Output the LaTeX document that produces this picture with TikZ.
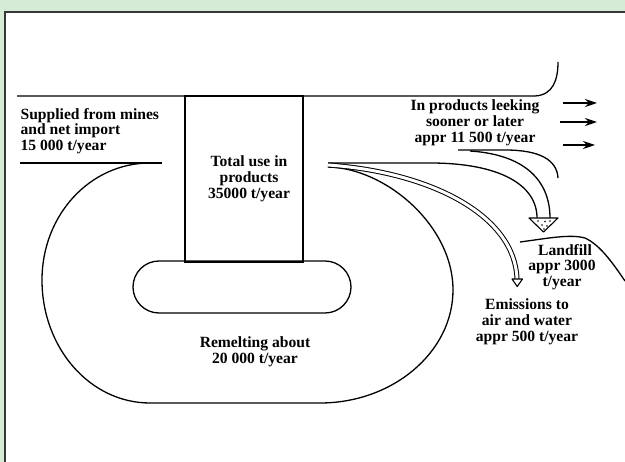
\documentclass[tikz,border=0pt]{standalone}
\usepackage{fontspec}
\setmainfont{Liberation Serif}
\usetikzlibrary{arrows.meta}
\definecolor{bandgreen}{RGB}{214,235,214}
\definecolor{framegray}{RGB}{55,55,55}
\begin{document}
\begin{tikzpicture}[x=1pt,y=-1pt,line width=1.3pt,
  lbl/.style={font=\fontsize{15.6}{15.8}\selectfont\bfseries,inner sep=0pt,align=center},
  outflow/.style={-{Stealth[length=12pt,width=8pt]},line width=1.3pt},
  headtri/.style={fill=white,line width=1.1pt,line join=round}]
\useasboundingbox (0,0) rectangle (625,462);
% page frame: green band on top and left, dark rule inside
\fill[bandgreen] (0,0) rectangle (625,12);
\fill[bandgreen] (0,0) rectangle (5,462);
\draw[framegray,line width=1.3pt] (5,462) -- (5,12) -- (625,12);

% key points
\coordinate (topL) at (17,96);
\coordinate (topR) at (535,96);
\coordinate (topEnd) at (558,62);
\coordinate (supL) at (20,163);
\coordinate (supR) at (162,163);
\coordinate (loopA) at (150,163);
\coordinate (fork) at (328,165);
\coordinate (leakA) at (458,150);

% top boundary line, bending upwards at its right end
\draw (topL) -- (topR) .. controls (553,95) and (558,80) .. (topEnd);
% lower boundary of the supply
\draw (supL) -- (supR);

% product stock box
\draw (185,96) rectangle (303,262);

% inner recycling loop
\draw[rounded corners=26pt] (133,261) rectangle (351,313);

% outer remelting loop
\draw (loopA) .. controls (90,163) and (42,215) .. (42,280)
  .. controls (42,348) and (90,403) .. (150,403)
  -- (320,403)
  .. controls (393,403) and (453,352) .. (453,290)
  .. controls (453,225) and (385,168) .. (328,167);

% landfill flow band
\draw (328,163) -- (430,163) .. controls (500,163) and (537,185) .. (537,218);
\draw (470,151) .. controls (530,155) and (550,185) .. (550,218);
\draw[headtri] (529,218) -- (558,218) -- (543.5,232) -- cycle;
\foreach \p in {(538,221),(545,221.5),(550,221),(542,225),(547,226),(544,229)}
  \fill \p circle (0.9pt);

% leakage line under the label
\draw (leakA) -- (505,150) .. controls (540,150) and (557,160) .. (558,178);

% emissions flow (double line)
\draw[double distance=3pt,line width=1pt] (fork) .. controls (430,172) and (515,215) .. (517,279);
\draw[headtri] (512,279) -- (522.5,279) -- (517.2,286.5) -- cycle;

% landfill ground surface
\draw (520,242) .. controls (550,238) and (570,234) .. (585,238)
  .. controls (600,245) and (612,262) .. (625,281);

% leakage arrows
\coordinate (a1s) at (563,103); \coordinate (a1e) at (597,103);
\coordinate (a2s) at (560,122); \coordinate (a2e) at (597,122);
\coordinate (a3s) at (563,145); \coordinate (a3e) at (595,145);
\draw[outflow] (a1s) -- (a1e);
\draw[outflow] (a2s) -- (a2e);
\draw[outflow] (a3s) -- (a3e);

% labels
\node[lbl,align=left,anchor=north west] (supply) at (20,107.5)
  {Supplied from mines\\and net import\\15 000 t/year};
\node[lbl,anchor=north] (leak) at (475,99.5)
  {In products leeking\\sooner or later\\appr 11 500 t/year};
\node[lbl,anchor=north] (total) at (249,155.5)
  {Total use in\\products\\35000 t/year};
\node[lbl,anchor=north] (remelt) at (255,336.5)
  {Remelting about\\20 000 t/year};
\node[lbl,anchor=north] (landfill) at (562,243.5)
  {\hspace*{6pt}Landfill\\appr 3000\\t/year};
\node[lbl,anchor=north] (emis) at (527,298.5)
  {Emissions to\\air and water\\appr 500 t/year};
\end{tikzpicture}
\end{document}
